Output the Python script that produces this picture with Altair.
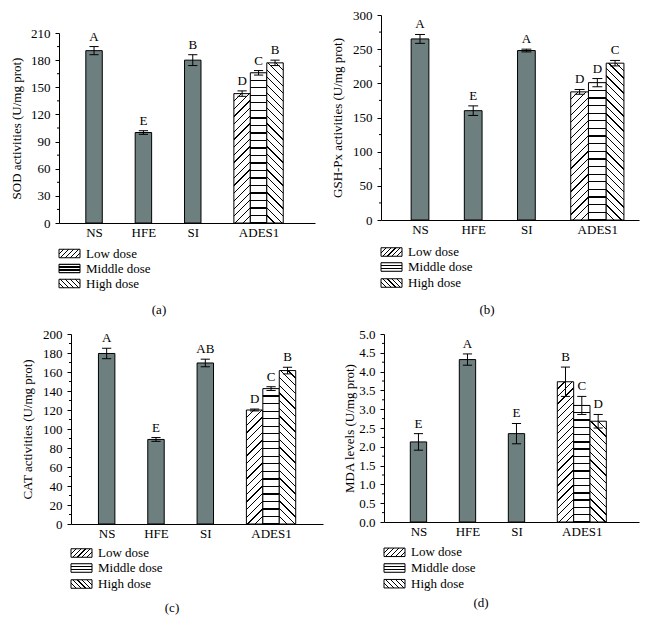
import math
import altair as alt
import pandas as pd

FONT = "Liberation Serif"
BAR_FILL = "#6e7f7f"

# ---------------- data ----------------
bar_names = ["NS", "HFE", "SI", "Low dose", "Middle dose", "High dose"]
group_labels = ["NS", "HFE", "SI", "ADES1"]
dose_names = ["Low dose", "Middle dose", "High dose"]
panel_labels = ["(a)", "(b)", "(c)", "(d)"]
y_titles = ["SOD activities (U/mg prot)", "GSH-Px activities (U/mg prot)",
            "CAT activities (U/mg prot)", "MDA levels (U/mg prot)"]

sod_mean = [190.5, 100, 180, 143, 166, 177]
sod_err = [4.5, 2, 6, 3, 2.5, 3]
sod_letters = ["A", "E", "B", "D", "C", "B"]
sod_ticks = [0, 30, 60, 90, 120, 150, 180, 210]
sod_minor = [15, 45, 75, 105, 135, 165, 195]

gsh_mean = [265, 160, 248, 187.5, 201, 229.5]
gsh_err = [6.5, 7, 2, 3.5, 6, 4]
gsh_letters = ["A", "E", "A", "D", "D", "C"]
gsh_ticks = [0, 50, 100, 150, 200, 250, 300]
gsh_minor = [25, 75, 125, 175, 225, 275]

cat_mean = [179.5, 89, 169.5, 120, 142.5, 161.5]
cat_err = [5.5, 2, 4, 1, 2, 3.5]
cat_letters = ["A", "E", "AB", "D", "C", "B"]
cat_ticks = [0, 20, 40, 60, 80, 100, 120, 140, 160, 180, 200]
cat_minor = [10, 30, 50, 70, 90, 110, 130, 150, 170, 190]

mda_mean = [2.13, 4.32, 2.35, 3.73, 3.10, 2.68]
mda_err = [0.22, 0.15, 0.27, 0.39, 0.24, 0.18]
mda_letters = ["E", "A", "E", "B", "C", "D"]
mda_ticks = [0.0, 0.5, 1.0, 1.5, 2.0, 2.5, 3.0, 3.5, 4.0, 4.5, 5.0]
mda_minor = [0.25, 0.75, 1.25, 1.75, 2.25, 2.75, 3.25, 3.75, 4.25, 4.75]

# ---------------- layout ----------------
SLOTS = [0, 3, 6, 9, 10, 11]
GROUP_SLOTS = [0, 3, 6, 10]

# W/H: view size; ytop/xoff: where the plot area starts inside the view
# L/T/R/B: frame around the view that fixes each panel's bounds
layouts = [
    dict(W=256, H=208, ytop=18, xoff=0, L=51, T=7, R=15, B=95, xlo=-2.13, xhi=13.43, tpad=7,
         fmt="d", leg=[30.5, 45.5, 60.5], lab=(100, 87)),
    dict(W=258, H=205, ytop=0, xoff=0, L=51, T=7, R=1, B=98, xlo=-2.2, xhi=12.35, tpad=8,
         fmt="d", leg=[32, 47, 63], lab=(106, 90)),
    dict(W=264, H=190, ytop=0, xoff=12, L=51, T=16, R=15, B=104, xlo=-2.17, xhi=13.16, tpad=8,
         fmt="d", leg=[29, 44, 60], lab=(101, 84)),
    dict(W=255, H=188, ytop=0, xoff=0, L=46, T=16, R=1, B=106, xlo=-2.11, xhi=13.5, tpad=2,
         fmt=".1f", leg=[30.3, 46, 61.7], lab=(97, 81)),
]

series = [
    (sod_mean, sod_err, sod_letters, sod_ticks, sod_minor),
    (gsh_mean, gsh_err, gsh_letters, gsh_ticks, gsh_minor),
    (cat_mean, cat_err, cat_letters, cat_ticks, cat_minor),
    (mda_mean, mda_err, mda_letters, mda_ticks, mda_minor),
]


def make_stops(n, hw):
    seq = []
    for k in range(n + 1):
        c = k / n
        lo = max(0.0, c - hw)
        hi = min(1.0, c + hw)
        if k > 0:
            seq.append((lo, "#ffffff"))
        seq.append((lo, "#000000"))
        seq.append((hi, "#000000"))
        if k < n:
            seq.append((hi, "#ffffff"))
    return [{"offset": round(o, 5), "color": col} for o, col in seq]


def horiz(h, period, lw):
    n = max(1, round(h / period))
    return {"gradient": "linear", "x1": 0, "y1": 0, "x2": 0, "y2": 1,
            "stops": make_stops(n, lw / 2.0 / h)}


def diag(w, h, period, lw, direction):
    D = (w + h) / math.sqrt(2)
    n = max(1, round(D / period))
    r = w / h
    beta = (r + 1) / (r * r + 1)
    alpha = beta * r
    if direction == "/":
        x1, y1, x2, y2 = 0, 0, alpha, beta
    else:
        x1, y1, x2, y2 = 1, 0, 1 - alpha, beta
    return {"gradient": "linear", "x1": round(x1, 5), "y1": round(y1, 5),
            "x2": round(x2, 5), "y2": round(y2, 5), "stops": make_stops(n, lw / 2.0 / D)}


def hatch_fill(i, w, h, period_d, period_h, lw_d, lw_h):
    if i == 0:
        return diag(w, h, period_d, lw_d, "/")
    if i == 1:
        return horiz(h, period_h, lw_h)
    return diag(w, h, period_d, lw_d, "\\")


label_expr = " : ".join(f"datum.value == {s} ? '{g}'" for s, g in zip(GROUP_SLOTS, group_labels)) + " : ''"
one = pd.DataFrame({"k": [0]})


def panel(idx):
    mean, err, letters, ticks, minor = series[idx]
    lay = layouts[idx]
    W, H, xo = lay["W"], lay["H"], lay["xoff"]
    ymax = ticks[-1]
    df = pd.DataFrame({"bar": bar_names, "slot": SLOTS, "mean": mean, "err": err, "letter": letters})
    base = alt.Chart(df).transform_calculate(
        lo="datum.mean - datum.err", hi="datum.mean + datum.err",
        x1="datum.slot - 0.5", x2="datum.slot + 0.5",
        c1="datum.slot - 0.28", c2="datum.slot + 0.28", zero="0")

    xscale = alt.Scale(domain=[lay["xlo"], lay["xhi"]], range=[xo, W], nice=False, zero=False)
    yscale = alt.Scale(domain=[0, ymax], range=[H, lay["ytop"]], nice=False, zero=True)
    xaxis = alt.Axis(values=GROUP_SLOTS, labelExpr=label_expr, title=None, ticks=False, grid=False,
                     domainColor="black", domainWidth=1, labelFont=FONT, labelFontSize=13,
                     labelColor="black", labelPadding=3, labelFlush=False, labelOverlap=False)
    yaxis = alt.Axis(values=ticks, format=lay["fmt"], title=y_titles[idx], tickSize=4, tickColor="black",
                     tickWidth=1, domainColor="black", domainWidth=1, labelFont=FONT, labelFontSize=13,
                     labelColor="black", labelPadding=5, labelFlush=False, labelOverlap=False,
                     titleFont=FONT, titleFontSize=13, titleFontWeight="normal", titleColor="black",
                     titlePadding=lay["tpad"], grid=False, offset=-xo)

    def X(f):
        return alt.X(f, scale=xscale, axis=xaxis)

    def Y(f):
        return alt.Y(f, scale=yscale, axis=yaxis)

    layers = []
    # invisible frame that fixes the panel's bounds
    layers.append(alt.Chart(one).mark_rect(opacity=0).encode(
        x=alt.value(-lay["L"]), x2=alt.value(W + lay["R"]),
        y=alt.value(-lay["T"]), y2=alt.value(H + lay["B"])))

    layers.append(base.transform_filter("datum.slot < 9").mark_rect(
        fill=BAR_FILL, stroke="black", strokeWidth=1).encode(
        x=X("x1:Q"), x2="x2:Q", y=Y("mean:Q"), y2="zero:Q"))

    plot_h = H - lay["ytop"]
    w_px = (W - xo) / (lay["xhi"] - lay["xlo"])
    for i, dn in enumerate(dose_names):
        h_px = mean[3 + i] * plot_h / ymax
        fill = hatch_fill(i, w_px, h_px, 5.4, 7.5, 0.9, 1.3)
        layers.append(base.transform_filter(f"datum.bar == '{dn}'").mark_rect(
            fill=fill, stroke="black", strokeWidth=1).encode(
            x=X("x1:Q"), x2="x2:Q", y=Y("mean:Q"), y2="zero:Q"))

    layers.append(base.mark_rule(color="black", strokeWidth=1).encode(
        x=X("slot:Q"), y=Y("lo:Q"), y2="hi:Q"))
    layers.append(base.mark_rule(color="black", strokeWidth=1).encode(
        x=X("c1:Q"), x2="c2:Q", y=Y("hi:Q")))
    layers.append(base.mark_rule(color="black", strokeWidth=1).encode(
        x=X("c1:Q"), x2="c2:Q", y=Y("lo:Q")))
    layers.append(base.mark_text(font=FONT, fontSize=13, baseline="alphabetic", align="center",
                                 dy=-6, color="black").encode(
        x=X("slot:Q"), y=Y("hi:Q"), text="letter:N"))

    layers.append(alt.Chart(pd.DataFrame({"v": minor})).mark_rule(color="black", strokeWidth=1).encode(
        y=Y("v:Q"), x=alt.value(xo - 2), x2=alt.value(xo)))

    # legend
    for i, dn in enumerate(dose_names):
        cy = H + lay["leg"][i]
        fill = hatch_fill(i, 21, 8.5, 3.3, 8.5 / 3, 0.8, 1.2)
        layers.append(alt.Chart(one).mark_rect(fill=fill, stroke="black", strokeWidth=1).encode(
            x=alt.value(xo), x2=alt.value(xo + 21), y=alt.value(cy - 4.25), y2=alt.value(cy + 4.25)))
        layers.append(alt.Chart(one).mark_text(text=dn, font=FONT, fontSize=13, align="left",
                                               baseline="middle", color="black").encode(
            x=alt.value(xo + 27), y=alt.value(cy)))

    layers.append(alt.Chart(one).mark_text(text=panel_labels[idx], font=FONT, fontSize=13,
                                           align="center", baseline="middle", color="black").encode(
        x=alt.value(xo + lay["lab"][0]), y=alt.value(H + lay["lab"][1])))

    return alt.layer(*layers).properties(width=W, height=H)


row1 = alt.hconcat(panel(0), panel(1), spacing=0)
row2 = alt.hconcat(panel(2), panel(3), spacing=0)
chart = alt.vconcat(row1, row2, spacing=0).properties(padding=0).configure_view(strokeWidth=0)

chart.save("out.html", embed_options={"renderer": "svg", "actions": False})
